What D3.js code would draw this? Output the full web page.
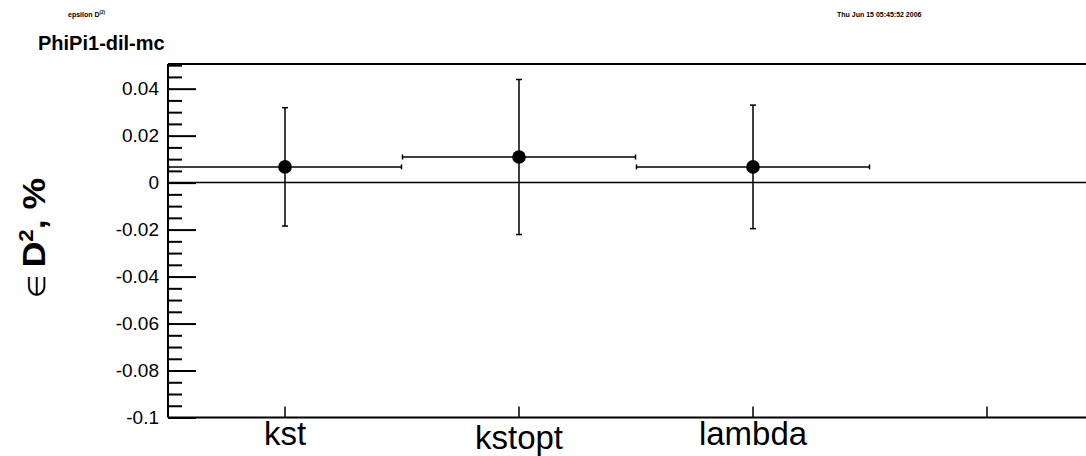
<!DOCTYPE html>
<html>
<head>
<meta charset="utf-8">
<script src="https://cdn.jsdelivr.net/npm/d3@7"></script>
<style>
  html, body { margin: 0; padding: 0; background: #fff; }
  svg { display: block; font-family: "Liberation Sans", Arial, Helvetica, sans-serif; }
  text { fill: #000; }
</style>
</head>
<body>
<svg id="chart" width="1086" height="456"></svg>
<script>
// Bin labels along the x axis (the last bin is empty)
const categories = ["kst", "kstopt", "lambda", ""];
// Measured epsilon D^2 per sample, in %
const values = [0.0067, 0.0109, 0.0067];
// Symmetric statistical errors
const errors = [0.0252, 0.0330, 0.0263];
// Labelled y ticks
const yTicks = [-0.1, -0.08, -0.06, -0.04, -0.02, 0, 0.02, 0.04];
const yTickLabels = ["-0.1", "-0.08", "-0.06", "-0.04", "-0.02", "0", "0.02", "0.04"];
// Minor y ticks every 0.005
const yMinor = d3.range(-0.1, 0.0501, 0.005).map(v => Math.round(v * 1000) / 1000);

const svg = d3.select("#chart");

const frame = { left: 168, top: 64, bottom: 417.5, right: 1104 };

const x = d3.scaleBand()
  .domain(categories)
  .range([frame.left, frame.right])
  .paddingInner(0).paddingOuter(0);

const y = d3.scaleLinear()
  .domain([-0.1, 0.0505])
  .range([frame.bottom, frame.top]);

// Header texts
svg.append("text")
  .attr("x", 68).attr("y", 16.5)
  .attr("font-size", 7).attr("font-weight", "bold")
  .text("epsilon D")
  .append("tspan").attr("dy", -2.5).attr("font-size", 4.5).text("(2)");

svg.append("text")
  .attr("x", 837).attr("y", 16.5)
  .attr("font-size", 7).attr("font-weight", "bold")
  .text("Thu Jun 15 05:45:52 2006");

svg.append("text")
  .attr("x", 38).attr("y", 50)
  .attr("font-size", 20).attr("font-weight", "bold")
  .text("PhiPi1-dil-mc");

// Frame top line
svg.append("line")
  .attr("x1", frame.left).attr("x2", frame.right)
  .attr("y1", frame.top).attr("y2", frame.top)
  .attr("stroke", "#000").attr("stroke-width", 2);

// Minor y ticks (pointing into the frame)
const yMinorAxis = d3.axisLeft(y)
  .tickValues(yMinor.filter(v => yTicks.every(t => Math.abs(t - v) > 1e-6)))
  .tickSizeInner(-14).tickSizeOuter(0).tickFormat("");
svg.append("g")
  .attr("transform", `translate(${frame.left},0)`)
  .call(yMinorAxis)
  .call(g => g.select(".domain").remove())
  .call(g => g.selectAll(".tick line").attr("stroke-width", 2));

// Major y ticks with labels
const yAxis = d3.axisLeft(y)
  .tickValues(yTicks)
  .tickSizeInner(-28).tickSizeOuter(0).tickPadding(9)
  .tickFormat((d, i) => yTickLabels[i]);
svg.append("g")
  .attr("transform", `translate(${frame.left},0)`)
  .call(yAxis)
  .call(g => g.select(".domain").attr("stroke-width", 2)
    .attr("d", `M0,${frame.bottom}V${frame.top}`))
  .call(g => g.selectAll(".tick line").attr("stroke-width", 2))
  .call(g => g.selectAll(".tick text")
    .attr("font-size", 19).attr("fill", "#000")
    .attr("font-family", "Liberation Sans, Arial, sans-serif"));

// X axis with bin labels below
const xAxis = d3.axisBottom(x)
  .tickSizeInner(-11).tickSizeOuter(0).tickPadding(0);
svg.append("g")
  .attr("transform", `translate(0,${frame.bottom})`)
  .call(xAxis)
  .call(g => g.select(".domain").attr("stroke-width", 2)
    .attr("d", `M${frame.left},0H${frame.right}`))
  .call(g => g.selectAll(".tick line").attr("stroke-width", 1.5))
  .call(g => g.selectAll(".tick text")
    .attr("font-size", 33).attr("fill", "#000")
    .attr("font-family", "Liberation Sans, Arial, sans-serif")
    .attr("dy", null)
    // labels with descenders sit a little lower
    .attr("y", d => /[gjpqy]/.test(d) ? 31 : 27.5));

// Zero reference line
svg.append("line")
  .attr("x1", frame.left).attr("x2", frame.right)
  .attr("y1", y(0)).attr("y2", y(0))
  .attr("stroke", "#000").attr("stroke-width", 1.5);

// Data points with error bars
const points = categories.slice(0, values.length).map((c, i) => ({ c, v: values[i], e: errors[i] }));
const pts = svg.append("g").attr("stroke", "#000").attr("stroke-width", 1.5);

pts.selectAll(".xerr").data(points).join("line")
  .attr("x1", d => x(d.c)).attr("x2", d => x(d.c) + x.bandwidth())
  .attr("y1", d => y(d.v)).attr("y2", d => y(d.v));

pts.selectAll(".xcapL").data(points).join("line")
  .attr("x1", d => x(d.c) + 0.5).attr("x2", d => x(d.c) + 0.5)
  .attr("y1", d => y(d.v) - 2.5).attr("y2", d => y(d.v) + 2.5);
pts.selectAll(".xcapR").data(points).join("line")
  .attr("x1", d => x(d.c) + x.bandwidth() - 0.5).attr("x2", d => x(d.c) + x.bandwidth() - 0.5)
  .attr("y1", d => y(d.v) - 2.5).attr("y2", d => y(d.v) + 2.5);

const cx = d => x(d.c) + x.bandwidth() / 2;
pts.selectAll(".yerr").data(points).join("line")
  .attr("x1", cx).attr("x2", cx)
  .attr("y1", d => y(d.v - d.e)).attr("y2", d => y(d.v + d.e));
pts.selectAll(".ycapT").data(points).join("line")
  .attr("x1", d => cx(d) - 3).attr("x2", d => cx(d) + 3)
  .attr("y1", d => y(d.v + d.e)).attr("y2", d => y(d.v + d.e));
pts.selectAll(".ycapB").data(points).join("line")
  .attr("x1", d => cx(d) - 3).attr("x2", d => cx(d) + 3)
  .attr("y1", d => y(d.v - d.e)).attr("y2", d => y(d.v - d.e));

svg.append("g").selectAll("circle").data(points).join("circle")
  .attr("cx", cx).attr("cy", d => y(d.v)).attr("r", 6.8)
  .attr("fill", "#000");

// Y axis title
const title = svg.append("text")
  .attr("transform", "translate(45,238) rotate(-90)")
  .attr("text-anchor", "middle")
  .attr("font-size", 32)
  .attr("textLength", 120)
  .attr("lengthAdjust", "spacingAndGlyphs");
title.append("tspan").attr("font-weight", "normal").attr("font-size", 24).text("\u2208 ");
title.append("tspan").attr("font-weight", "bold").text("D");
title.append("tspan").attr("font-weight", "bold").attr("font-size", 20).attr("dy", -12).text("2");
title.append("tspan").attr("font-weight", "bold").attr("dy", 12).text(", %");
</script>
</body>
</html>
